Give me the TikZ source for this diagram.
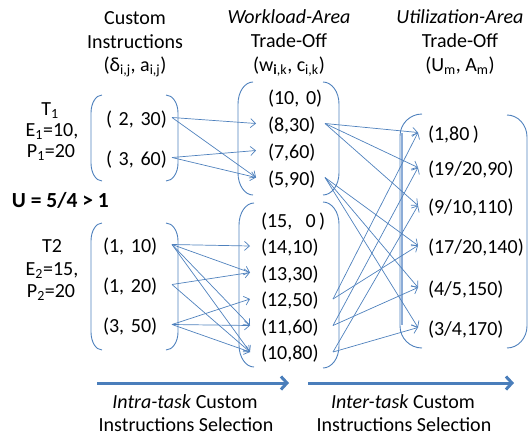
\documentclass[tikz,border=0pt]{standalone}
\usepackage{fontspec}
\setmainfont{Carlito}
\usetikzlibrary{arrows.meta}
\definecolor{bl}{RGB}{79,129,189}
\definecolor{blthick}{RGB}{74,126,187}
\definecolor{bllight}{RGB}{140,172,215}
\newcommand\brkL[5]{\draw[brk] ({#1+#4},#2) .. controls ({#1+0.45*#4},#2) and (#1,{#2+0.45*#5}) .. (#1,{#2+#5}) -- (#1,{#3-#5}) .. controls (#1,{#3-0.45*#5}) and ({#1+0.45*#4},#3) .. ({#1+#4},#3);}
\newcommand\brkR[5]{\draw[brk] ({#1-#4},#2) .. controls ({#1-0.45*#4},#2) and (#1,{#2+0.45*#5}) .. (#1,{#2+#5}) -- (#1,{#3-#5}) .. controls (#1,{#3-0.45*#5}) and ({#1-0.45*#4},#3) .. ({#1-#4},#3);}
\begin{document}
\begin{tikzpicture}[x=1pt,y=-1pt,
  every node/.style={font=\fontsize{20}{24}\selectfont, inner sep=0pt, outer sep=0pt},
  lbl/.style={anchor=base},
  ent/.style={anchor=base west, align=left, text height=18pt, text depth=3pt},
  cA/.style={ent, text width=66pt},
  cB/.style={ent, text width=69pt},
  cU/.style={ent, inner xsep=12pt, text width=45pt},
  cL/.style={ent, inner xsep=11pt, text width=61pt},
  cR/.style={ent, inner xsep=10pt, text width=95pt},
  conn/.style={draw=bl, line width=0.7pt, -{Straight Barb[length=5pt,width=9pt]}},
  brk/.style={draw=bl, line width=0.9pt},
  big/.style={draw=blthick, line width=3pt, -{Straight Barb[length=6pt,width=13pt]}}]
\useasboundingbox (0,0) rectangle (530,437);

% headers
\node[lbl] (h11) at (135,24) {Custom};
\node[lbl] (h12) at (135,48) {Instructions};
\node[lbl] (h13) at (135,71) {(δ\textsubscript{i,j}, a\textsubscript{i,j})};
\node[lbl] (h21) at (289,23) {\textit{Workload-Area}};
\node[lbl] (h22) at (289,47) {Trade-Off};
\node[lbl] (h23) at (289,71) {(w\textsubscript{\textbf{i},k}, c\textsubscript{i,k})};
\node[lbl] (h31) at (460,23) {\textit{Utilization-Area}};
\node[lbl] (h32) at (460,47) {Trade-Off};
\node[lbl] (h33) at (460,71) {(U\textsubscript{m}, A\textsubscript{m})};

% task labels
\node[lbl] (t1) at (50,115) {T\textsubscript{1}};
\node[lbl] (e1) at (52,136) {E\textsubscript{1}=10,};
\node[lbl] (p1) at (51,157) {P\textsubscript{1}=20};
\node[anchor=base west, font=\fontsize{21.5}{24}\selectfont\bfseries] (u) at (12,207) {U = 5/4 > 1};
\node[lbl] (t2) at (52,252) {T2};
\node[lbl] (e2) at (52,275) {E\textsubscript{2}=15,};
\node[lbl] (p2) at (51,297) {P\textsubscript{2}=20};

% brackets
\brkL{91}{95}{181}{11}{18}
\brkR{178}{95}{181}{12}{18}
\brkL{91}{223}{350}{11}{18}
\brkR{178}{223}{350}{12}{18}
\brkL{238}{82}{195}{15}{22}
\brkR{339}{82}{195}{16}{22}
\brkL{239}{203}{367}{15}{22}
\brkR{339}{202}{368}{16}{22}
\brkL{400}{114}{348}{22}{22}
\brkR{527}{115}{348}{20}{22}
\draw[bllight, line width=2.2pt] (402,133) -- (402,325);

% column 1 entries
\node[cA] (a1) at (106,125) {\mbox{( 2, 30)}};
\node[cA] (a2) at (106,165) {\mbox{( 3, 60)}};
\node[cB] (b1) at (103,252) {\mbox{(1, 10)}};
\node[cB] (b2) at (103,292) {\mbox{(1, 20)}};
\node[cB] (b3) at (103,332) {\mbox{(3, 50)}};

% column 2 entries
\node[cU] (u1) at (256,104) {\mbox{(10, 0)}};
\node[cU] (u2) at (256,131) {(8,30)};
\node[cU] (u3) at (256,158) {(7,60)};
\node[cU] (u4) at (256,185) {(5,90)};
\node[cL] (l1) at (250,227) {\mbox{(15,\ \ 0\,)}};
\node[cL] (l2) at (250,253.5) {(14,10)};
\node[cL] (l3) at (250,280) {(13,30)};
\node[cL] (l4) at (250,306.5) {(12,50)};
\node[cL] (l5) at (250,333) {(11,60)};
\node[cL] (l6) at (250,359.5) {(10,80)};

% column 3 entries
\node[cR] (r1) at (418,140) {\mbox{(1,80\,)}};
\node[cR] (r2) at (418,175) {(19/20,90)};
\node[cR] (r3) at (418,213) {(9/10,110)};
\node[cR] (r4) at (418,253) {(17/20,140)};
\node[cR] (r5) at (418,295) {(4/5,150)};
\node[cR] (r6) at (418,335) {(3/4,170)};

% intra-task connectors
\draw[conn] (a1.east) -- (u2.west);
\draw[conn] (a1.east) -- (u4.west);
\draw[conn] (a2.east) -- (u3.west);
\draw[conn] (a2.east) -- (u4.west);
\draw[conn] (b1.east) -- (l2.west);
\draw[conn] (b1.east) -- (l3.west);
\draw[conn] (b1.east) -- (l5.west);
\draw[conn] (b1.east) -- (l6.west);
\draw[conn] (b2.east) -- (l3.west);
\draw[conn] (b2.east) -- (l6.west);
\draw[conn] (b3.east) -- (l4.west);
\draw[conn] (b3.east) -- (l5.west);
\draw[conn] (b3.east) -- (l6.west);

% inter-task connectors
\draw[conn] (u2.east) -- (r1.west);
\draw[conn] (u2.east) -- (r2.west);
\draw[conn] (u2.east) -- (r3.west);
\draw[conn] (u4.east) -- (r4.west);
\draw[conn] (u4.east) -- (r5.west);
\draw[conn] (u4.east) -- (r6.west);
\draw[conn] (l4.east) -- (r1.west);
\draw[conn] (l4.east) -- (r4.west);
\draw[conn] (l5.east) -- (r2.west);
\draw[conn] (l5.east) -- (r5.west);
\draw[conn] (l6.east) -- (r3.west);
\draw[conn] (l6.east) -- (r6.west);

% bottom arrows and captions
\coordinate (s1) at (97,383);
\coordinate (f1) at (289,383);
\coordinate (s2) at (308,383);
\coordinate (f2) at (514,383);
\draw[big] (s1) -- (f1);
\draw[big] (s2) -- (f2);
\node[lbl] (c11) at (185,408) {\textit{Intra-task} Custom};
\node[lbl] (c12) at (186,431) {Instructions Selection};
\node[lbl] (c21) at (403,408) {\textit{Inter-task} Custom};
\node[lbl] (c22) at (404,431) {Instructions Selection};
\end{tikzpicture}
\end{document}
